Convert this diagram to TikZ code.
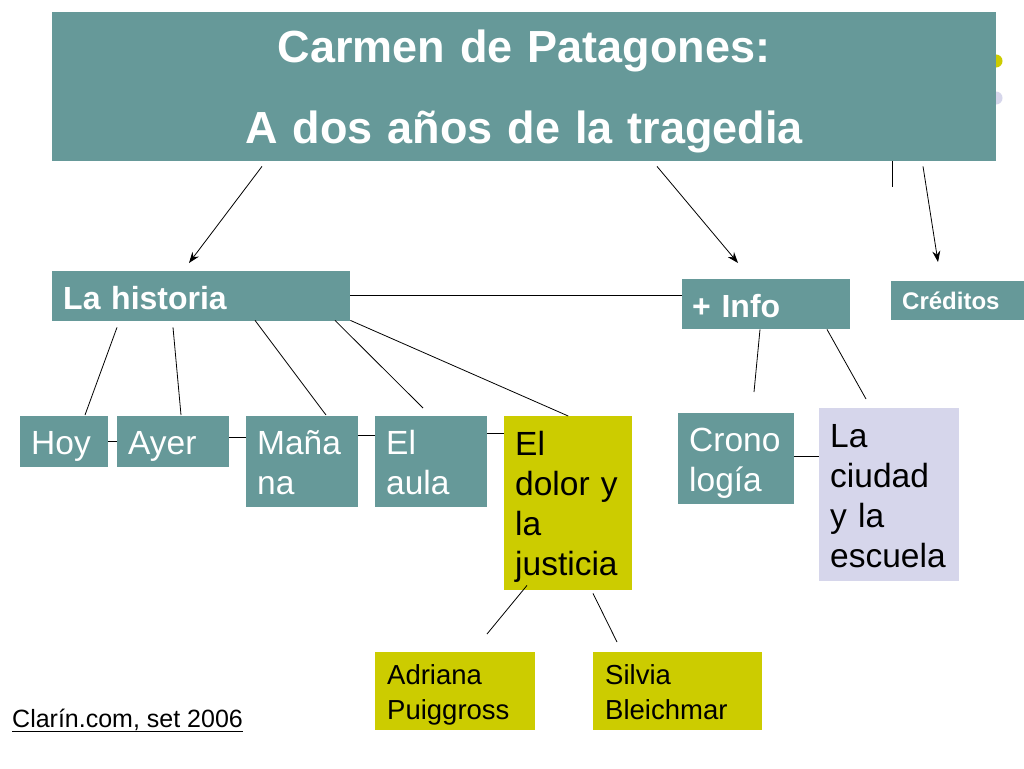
\documentclass[tikz,border=0pt]{standalone}
\usepackage{fontspec}
\setmainfont{Liberation Sans}
\usetikzlibrary{arrows.meta,calc}
\definecolor{tealc}{HTML}{669999}
\definecolor{yelc}{HTML}{CCCC00}
\definecolor{lavc}{HTML}{D6D6EB}
\newcommand{\bst}{\rule[-7.5pt]{0pt}{40pt}}
\newcommand{\nst}{\rule[-6pt]{0pt}{34pt}}
\newcommand{\hst}{\rule[-2pt]{0pt}{31pt}}
\tikzset{
  box/.style={anchor=north west, inner xsep=11pt, inner ysep=0pt, align=left,
    font=\fontsize{33.5}{40}\selectfont},
  tealbox/.style={box, fill=tealc, text=white},
  yelbox/.style={box, fill=yelc, text=black},
  lavbox/.style={box, fill=lavc, text=black},
  headbox/.style={tealbox, font=\bfseries\fontsize{32}{38}\selectfont},
  namebox/.style={yelbox, inner xsep=12pt, font=\fontsize{27.5}{35}\selectfont},
  conn/.style={draw=black, line width=0.8pt},
  arr/.style={conn, -{Stealth[length=11pt,width=8pt]}},
  dot/.style={circle, minimum size=13pt, inner sep=0pt}
}
\begin{document}
\begin{tikzpicture}[x=1pt,y=-1pt]
\useasboundingbox[fill=white] (0,0) rectangle (1024,768);

% background bullets partly hidden by the title
\node[dot, fill=yelc] (d1) at (996,61) {};
\node[dot, fill=lavc] (d2) at (996,98) {};

% title
\node[tealbox, align=center, text width=922pt, minimum width=944pt, minimum height=149pt,
  font=\bfseries\fontsize{45}{81}\selectfont] (title) at (52,12)
  {\rule{0pt}{43pt}Carmen de Patagones:\\A dos años de la tragedia};

% second level
\node[headbox, text width=276pt, minimum width=298pt, minimum height=50pt, inner xsep=11pt] (hist) at (52,271) {\hst La historia};
\node[headbox, text width=148pt, minimum width=168pt, minimum height=50pt, inner xsep=10pt] (info) at (682,279) {\hst + Info};
\node[tealbox, text width=111pt, minimum width=133pt, minimum height=39pt,
  font=\bfseries\fontsize{24}{29}\selectfont] (cred) at (891,281) {Créditos};

% third level
\node[tealbox, text width=66pt, minimum width=88pt, minimum height=51pt] (hoy) at (20,416) {\bst Hoy};
\node[tealbox, text width=90pt, minimum width=112pt, minimum height=51pt] (ayer) at (117,416) {\bst Ayer};
\node[tealbox, text width=90pt, minimum width=112pt, minimum height=91pt] (man) at (246,416) {\bst Maña\\\bst na};
\node[tealbox, text width=90pt, minimum width=112pt, minimum height=91pt] (aula) at (375,416) {\bst El\\\bst aula};
\node[yelbox, text width=106pt, minimum width=128pt, minimum height=174pt] (dolor) at (504,416) {\bst El\\\bst dolor y\\\bst la\\\bst justicia};
\node[tealbox, text width=94pt, minimum width=116pt, minimum height=91pt] (crono) at (678,413) {\bst Crono\\\bst logía};
\node[lavbox, text width=118pt, minimum width=140pt, minimum height=173pt] (ciudad) at (819,408) {\bst La\\\bst ciudad\\\bst y la\\\bst escuela};

% fourth level
\node[namebox, text width=136pt, minimum width=160pt, minimum height=78pt] (adri) at (375,652) {\nst Adriana\\\nst Puiggross};
\node[namebox, text width=145pt, minimum width=169pt, minimum height=78pt] (silv) at (593,652) {\nst Silvia\\\nst Bleichmar};

% source
\node[anchor=base west, inner sep=0pt, font=\fontsize{25}{30}\selectfont] (src) at (12,727) {\underline{Clarín.com, set 2006}};

% arrows from the title
\draw[arr] ($(title.south west)+(210,5)$) -- ($(hist.north west)+(137,-8)$);
\draw[arr] ($(title.south west)+(605,5)$) -- ($(info.north west)+(56,-16)$);
\draw[conn] ($(title.south west)+(840,0)$) coordinate (v0) -- ($(v0)+(0,26)$) coordinate (v1);
\draw[arr] ($(title.south west)+(871,5)$) -- ($(cred.north west)+(47,-19)$);

% La historia links
\draw[conn] ($(hist.east)+(0,-1)$) coordinate (h0) -- (h0 -| info.west);
\draw[conn] ($(hist.south west)+(65,6)$) -- ($(hoy.north west)+(65,-1)$);
\draw[conn] ($(hist.south west)+(121,6)$) -- ($(ayer.north west)+(64,-1)$);
\draw[conn] ($(hist.south west)+(203,-1)$) -- ($(man.north west)+(80,-1)$);
\draw[conn] ($(hist.south west)+(283,-1)$) -- ($(aula.north west)+(48,-8)$);
\draw[conn] ($(hist.south east)+(0,-1)$) -- (dolor.north);

% horizontal links between siblings
\draw[conn] ($(hoy.north east)+(0,25)$) coordinate (s1) -- (s1 -| ayer.west);
\draw[conn] ($(ayer.north east)+(0,21)$) coordinate (s2) -- (s2 -| man.west);
\draw[conn] ($(man.north east)+(0,19)$) coordinate (s3) -- (s3 -| aula.west);
\draw[conn] ($(aula.north east)+(0,17)$) coordinate (s4) -- (s4 -| dolor.west);

% + Info links
\draw[conn] ($(info.south west)+(78,0)$) -- ($(crono.north west)+(76,-21)$);
\draw[conn] ($(info.south west)+(145,0)$) -- ($(ciudad.north west)+(47,-9)$);
\draw[conn] ($(crono.north east)+(0,43)$) coordinate (s5) -- (s5 -| ciudad.west);

% El dolor links
\draw[conn] ($(dolor.south west)+(23,-5)$) -- ($(adri.north west)+(112,-18)$);
\draw[conn] ($(dolor.south west)+(89,3)$) -- ($(silv.north west)+(24,-10)$);
\end{tikzpicture}
\end{document}
